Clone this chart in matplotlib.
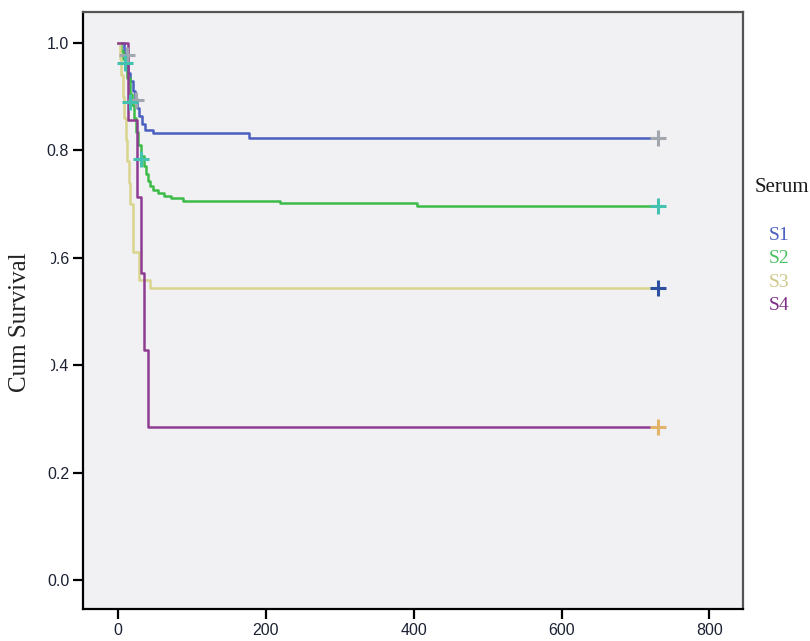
import numpy as np
import matplotlib
matplotlib.use('Agg')
import matplotlib.pyplot as plt

# survival steps (days, cumulative survival)
s1_t = [0, 8, 11, 14, 17, 20, 23, 26, 29, 33, 37, 48, 178, 730]
s1_v = [1.0, 0.98, 0.96, 0.945, 0.93, 0.91, 0.895, 0.88, 0.865, 0.85, 0.838, 0.832, 0.824, 0.824]
s1_cens_t = [12, 24, 730]
s1_cens_v = [0.977, 0.894, 0.824]

s2_t = [0, 4, 7, 10, 13, 16, 19, 22, 25, 28, 31, 35, 38, 41, 44, 48, 54, 62, 72, 88, 219, 404, 730]
s2_v = [1.0, 0.985, 0.97, 0.955, 0.935, 0.905, 0.885, 0.86, 0.835, 0.81, 0.79, 0.772, 0.757,
        0.743, 0.733, 0.726, 0.72, 0.715, 0.711, 0.7065, 0.7015, 0.696, 0.696]
s2_cens_t = [10, 16, 32, 730]
s2_cens_v = [0.963, 0.89, 0.785, 0.696]

s3_t = [0, 3, 5, 7, 9, 11, 13, 15, 17, 20, 29, 43, 730]
s3_v = [1.0, 0.97, 0.94, 0.9, 0.86, 0.82, 0.78, 0.74, 0.7, 0.61, 0.558, 0.543, 0.543]
s3_cens_t = [730]
s3_cens_v = [0.543]

s4_t = [0, 14, 26, 32, 36, 41, 730]
s4_v = [1.0, 6/7, 5/7, 4/7, 3/7, 2/7, 2/7]
s4_cens_t = [730]
s4_cens_v = [2/7]

labels = ['S1', 'S2', 'S3', 'S4']
line_cols = ['#4a5fbf', '#3dbb48', '#d9d58e', '#8e3c92']
cens_cols = ['#a2a6ae', '#43c2b0', '#2d4fa0', '#e2b46a']
legend_cols = ['#4a5fbf', '#4cc060', '#d0c98a', '#7e2f86']

fig = plt.figure(figsize=(8.1, 6.41), dpi=100)
ax = fig.add_axes([0.1025, 0.05, 0.8145, 0.9313])
ax.set_facecolor('#f1f1f3')

series = [(s1_t, s1_v, s1_cens_t, s1_cens_v),
          (s2_t, s2_v, s2_cens_t, s2_cens_v),
          (s3_t, s3_v, s3_cens_t, s3_cens_v),
          (s4_t, s4_v, s4_cens_t, s4_cens_v)]
for (t, v, ct, cv), lc in zip(series, line_cols):
    ax.step(t, v, where='post', color=lc, lw=1.8)
for (t, v, ct, cv), cc in zip(series, cens_cols):
    ax.plot(ct, cv, '+', color=cc, ms=11, mew=2.2)

ax.set_xlim(-47, 845)
ax.set_ylim(-0.054, 1.058)
ax.set_xticks([0, 200, 400, 600, 800])
ax.set_yticks([0.0, 0.2, 0.4, 0.6, 0.8, 1.0])
ax.set_yticklabels(['0.0', '0.2', '0.4', '0.6', '0.8', '1.0'])
ax.tick_params(axis='both', direction='out', length=7, width=1.6, labelsize=11.5,
               labelcolor='#1c2233', colors='black', pad=3)
for lab in ax.get_xticklabels() + ax.get_yticklabels():
    lab.set_fontfamily('Liberation Sans')
for side in ['left', 'bottom']:
    ax.spines[side].set_linewidth(1.6)
    ax.spines[side].set_color('black')
for side in ['top', 'right']:
    ax.spines[side].set_linewidth(1.6)
    ax.spines[side].set_color('#555555')

# y label with white box (it covers the leading zeros of two tick labels)
fig.text(0.025, 0.497, 'Cum Survival', rotation=90, ha='center', va='center',
         fontsize=18, family='Liberation Serif', color='#222222',
         bbox=dict(facecolor='white', edgecolor='none', pad=14))

fig.text(0.932, 0.707, 'Serum', fontsize=15, family='Liberation Serif', color='#1a1a1a',
         va='center', ha='left')
for i, (lab, col) in enumerate(zip(labels, legend_cols)):
    fig.text(0.949, 0.632 - i * 0.036, lab, fontsize=14, family='Liberation Serif',
             color=col, va='center', ha='left')

fig.savefig('out.png', dpi=100, facecolor='white')
